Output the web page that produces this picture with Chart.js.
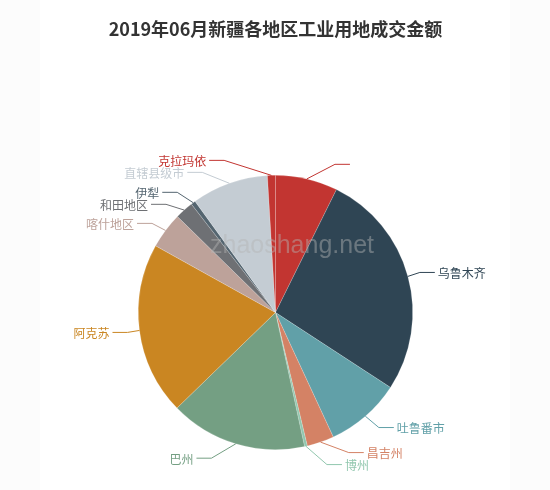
<!DOCTYPE html>
<html>
<head>
<meta charset="utf-8">
<script src="https://cdn.jsdelivr.net/npm/chart.js@4.4.1/dist/chart.umd.min.js"></script>
<style>
  html, body { margin: 0; padding: 0; background: #fcfcfc; }
  #wrap { position: relative; width: 550px; height: 490px; }
  canvas { display: block; }
</style>
</head>
<body>
<div id="wrap"><canvas id="c" width="550" height="490"></canvas></div>
<script>
// ---- data (shares of the total) ----
const titleText = '2019年06月新疆各地区工业用地成交金额';
const categories = ['', '乌鲁木齐', '吐鲁番市', '昌吉州', '博州', '巴州', '阿克苏', '喀什地区', '和田地区', '伊犁', '直辖县级市', '克拉玛依'];
const values = [7.33, 26.86, 8.89, 3.19, 0.33, 16.14, 20.33, 4.25, 2.17, 0.53, 9.03, 0.94];
const colors = ['#c23531', '#2f4554', '#61a0a8', '#d48265', '#91c7ae', '#749f83', '#ca8622', '#bda29a', '#6e7074', '#546570', '#c4ccd3', '#c23531'];
const watermark = 'zhaoshang.net';

const LEN = 15, LEN2 = 15, LABEL_H = 12;
const FONT = '"Noto Sans CJK SC", "Noto Sans", sans-serif';

function adjustSide(list, cx, cy, r, dir, viewHeight) {
  list.sort((a, b) => a.y - b.y);
  function shiftUp(end, delta) {
    for (let j = end; j >= 0; j--) {
      list[j].y -= delta;
      if (j > 0 && list[j].y > list[j - 1].y + list[j - 1].height) break;
    }
  }
  function shiftDown(start, end, delta) {
    for (let j = start; j < end; j++) {
      list[j].y += delta;
      if (j > start && j + 1 < end && list[j + 1].y > list[j].y + list[j].height) {
        shiftUp(j, delta / 2);
        return;
      }
    }
    shiftUp(end - 1, delta / 2);
  }
  let lastY = 0;
  for (let i = 0; i < list.length; i++) {
    const d = list[i].y - lastY;
    if (d < 0) shiftDown(i, list.length, -d);
    lastY = list[i].y + list[i].height;
  }
  if (viewHeight - lastY < 0) shiftUp(list.length - 1, lastY - viewHeight);
  const up = [], down = [];
  list.forEach(l => (l.y >= cy ? down : up).push(l));
  function changeX(arr, isDown) {
    let last = isDown ? Infinity : 0;
    for (const l of arr) {
      const dY = Math.abs(l.y - cy);
      const R = r + LEN + LEN2;
      let dX = Math.sqrt(Math.max(R * R - dY * dY, 0));
      if (isDown && dX >= last) dX = last - 10;
      if (!isDown && dX <= last) dX = last + 10;
      l.x = cx + dX * dir;
      last = dX;
    }
  }
  changeX(up, false);
  changeX(down, true);
}

const decorPlugin = {
  id: 'decor',
  beforeDraw(chart) {
    const ctx = chart.ctx;
    ctx.save();
    ctx.fillStyle = '#fcfcfc';
    ctx.fillRect(0, 0, chart.width, chart.height);
    ctx.fillStyle = '#ffffff';
    ctx.fillRect(40, 0, 470, chart.height);
    ctx.restore();
  },
  afterDatasetsDraw(chart) {
    const ctx = chart.ctx;
    const meta = chart.getDatasetMeta(0);
    const left = [], right = [];
    let cx = 0, cy = 0, r = 0;
    meta.data.forEach((arc, i) => {
      const p = arc.getProps(['x', 'y', 'startAngle', 'endAngle', 'outerRadius'], true);
      cx = p.x; cy = p.y; r = p.outerRadius;
      const mid = (p.startAngle + p.endAngle) / 2;
      const dx = Math.cos(mid), dy = Math.sin(mid);
      const item = {
        i, dir: dx < 0 ? -1 : 1,
        x1: p.x + r * dx, y1: p.y + r * dy,
        y: p.y + (r + LEN) * dy, x: 0, height: LABEL_H
      };
      (item.dir < 0 ? left : right).push(item);
    });
    adjustSide(right, cx, cy, r, 1, chart.height);
    adjustSide(left, cx, cy, r, -1, chart.height);

    ctx.save();
    ctx.font = '12px ' + FONT;
    ctx.textBaseline = 'middle';
    ctx.lineWidth = 1;
    [...left, ...right].forEach(l => {
      const col = colors[l.i];
      const endX = l.x - l.dir * 3;
      const elbowX = endX - l.dir * LEN2;
      ctx.strokeStyle = col;
      ctx.beginPath();
      ctx.moveTo(l.x1, l.y1);
      ctx.lineTo(elbowX, l.y);
      ctx.lineTo(endX, l.y);
      ctx.stroke();
      ctx.fillStyle = col;
      ctx.textAlign = l.dir > 0 ? 'left' : 'right';
      ctx.fillText(categories[l.i], l.x, l.y + 1);
    });

    // watermark
    ctx.font = '25px "Liberation Sans", Arial, sans-serif';
    ctx.textAlign = 'left';
    ctx.textBaseline = 'alphabetic';
    ctx.fillStyle = 'rgba(180,180,180,0.45)';
    ctx.fillText(watermark, 210, 253);

    // title
    ctx.font = 'bold 18px ' + FONT;
    ctx.textAlign = 'center';
    ctx.textBaseline = 'middle';
    ctx.fillStyle = '#333333';
    ctx.fillText(titleText, 275.5, 29);
    ctx.restore();
  }
};

new Chart(document.getElementById('c'), {
  type: 'pie',
  data: {
    labels: categories,
    datasets: [{
      data: values,
      backgroundColor: colors,
      borderColor: 'rgba(255,255,255,0.3)',
      borderWidth: 0.6
    }]
  },
  options: {
    responsive: false,
    animation: false,
    rotation: 0,
    layout: { padding: { left: 138, right: 137, top: 175, bottom: 40 } },
    plugins: {
      legend: { display: false },
      title: { display: false },
      tooltip: { enabled: false }
    },
    events: []
  },
  plugins: [decorPlugin]
});
</script>
</body>
</html>
